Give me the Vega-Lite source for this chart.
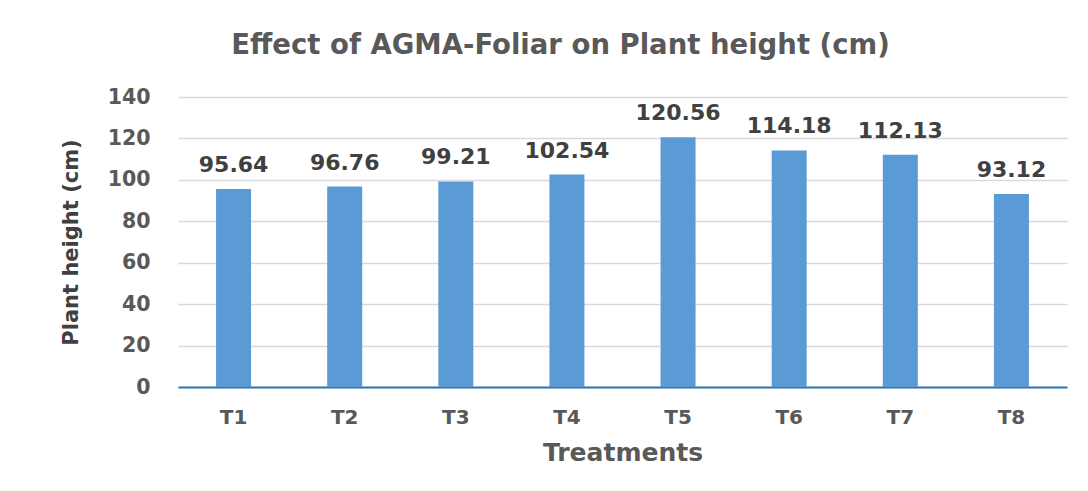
{
  "$schema": "https://vega.github.io/schema/vega-lite/v6.json",
  "width": 889,
  "height": 290,
  "autosize": {"type": "none"},
  "padding": {"left": 178, "top": 97, "right": 21, "bottom": 104},
  "background": "white",
  "title": {
    "text": "Effect of AGMA-Foliar on Plant height (cm)",
    "font": "DejaVu Sans",
    "fontSize": 27.5,
    "fontWeight": "bold",
    "color": "#595959",
    "anchor": "middle",
    "dx": -62,
    "offset": 28
  },
  "data": {
    "values": [
      {"treatment": "T1", "height": 95.64},
      {"treatment": "T2", "height": 96.76},
      {"treatment": "T3", "height": 99.21},
      {"treatment": "T4", "height": 102.54},
      {"treatment": "T5", "height": 120.56},
      {"treatment": "T6", "height": 114.18},
      {"treatment": "T7", "height": 112.13},
      {"treatment": "T8", "height": 93.12}
    ]
  },
  "encoding": {
    "x": {
      "field": "treatment",
      "type": "nominal",
      "sort": null,
      "scale": {"paddingInner": 0.685, "paddingOuter": 0.3425},
      "axis": {
        "title": "Treatments",
        "labelAngle": 0,
        "ticks": false,
        "domain": true,
        "domainColor": "#2E75B6",
        "domainWidth": 2,
        "labelFont": "DejaVu Sans",
        "labelFontSize": 20,
        "labelFontWeight": "bold",
        "labelColor": "#595959",
        "labelPadding": 20,
        "titleFont": "DejaVu Sans",
        "titleFontSize": 25,
        "titleFontWeight": "bold",
        "titleColor": "#595959",
        "titlePadding": 13
      }
    },
    "y": {
      "field": "height",
      "type": "quantitative",
      "scale": {"domain": [0, 140]},
      "axis": {
        "title": "Plant height (cm)",
        "values": [0, 20, 40, 60, 80, 100, 120, 140],
        "ticks": false,
        "domain": false,
        "grid": true,
        "gridColor": "#d9d9d9",
        "gridWidth": 1.5,
        "labelFont": "DejaVu Sans",
        "labelFontSize": 20.5,
        "labelFontWeight": "bold",
        "labelColor": "#595959",
        "labelPadding": 28,
        "titleFont": "DejaVu Sans",
        "titleFontSize": 21,
        "titleFontWeight": "bold",
        "titleColor": "#404040",
        "titlePadding": 26
      }
    }
  },
  "layer": [
    {
      "mark": {"type": "bar", "color": "#5B9BD5"}
    },
    {
      "mark": {
        "type": "text",
        "dy": -24,
        "font": "DejaVu Sans",
        "fontSize": 22,
        "fontWeight": "bold",
        "color": "#404040"
      },
      "encoding": {
        "text": {"field": "height", "type": "quantitative", "format": ".2f"}
      }
    }
  ],
  "config": {
    "view": {"stroke": null}
  }
}
